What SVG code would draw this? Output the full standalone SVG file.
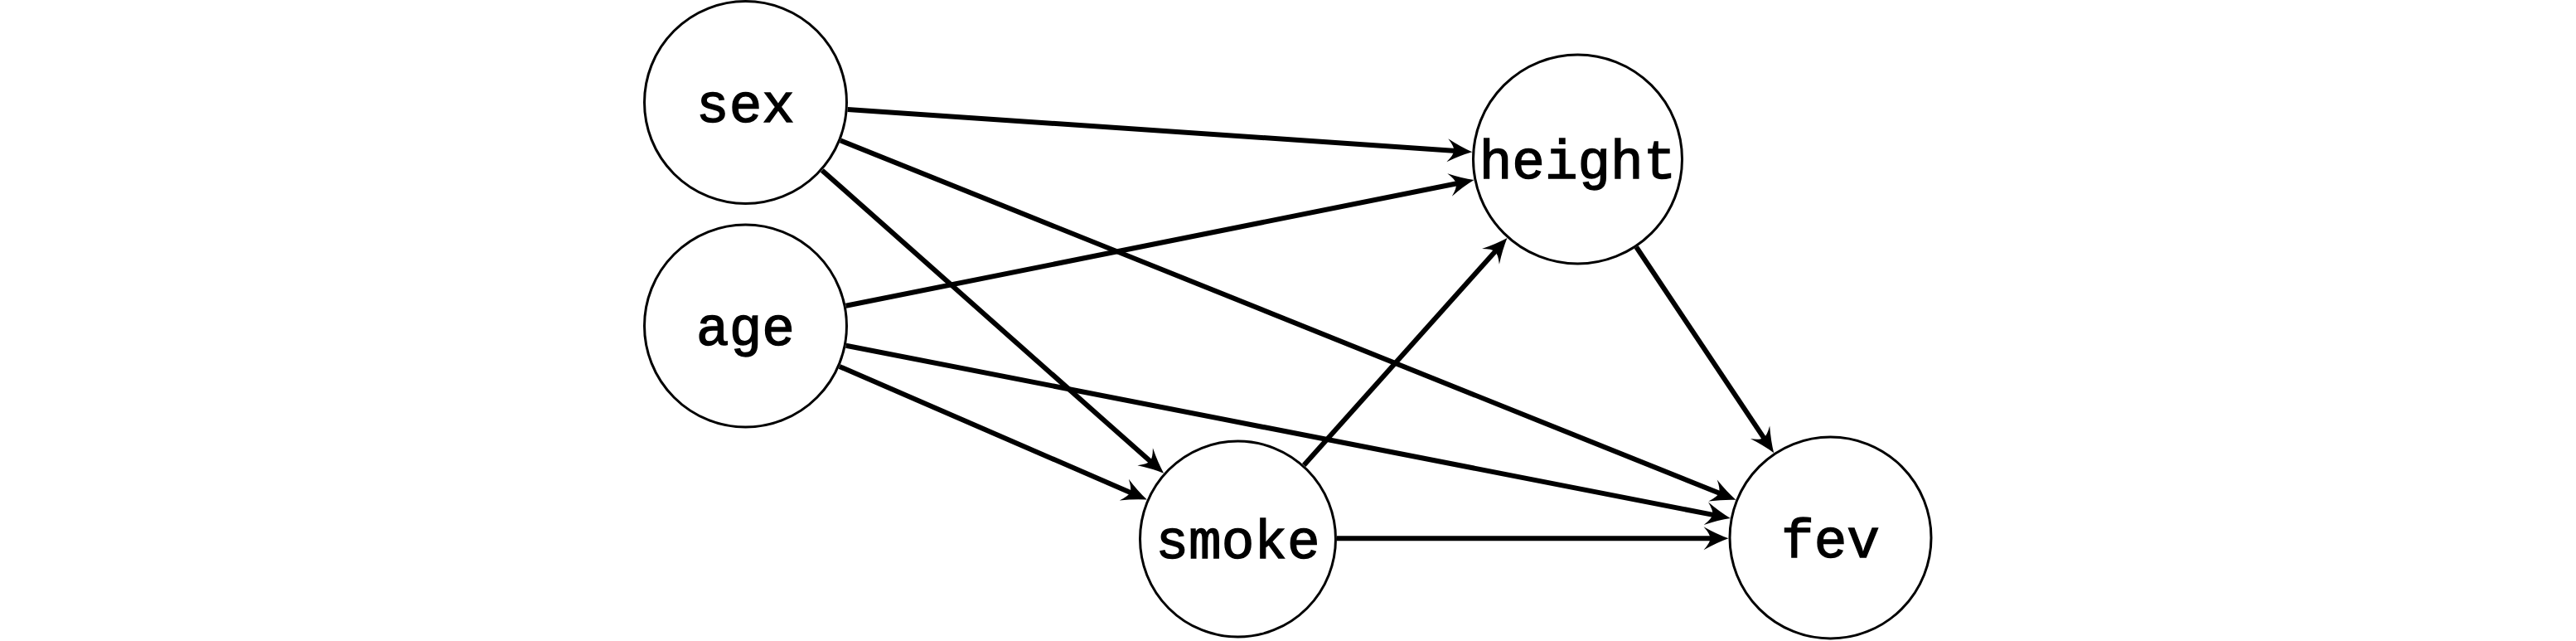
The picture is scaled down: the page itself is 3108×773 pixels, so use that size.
<svg xmlns="http://www.w3.org/2000/svg" width="3108" height="773" viewBox="0 0 3108 773">
<style>
.node circle { fill: #ffffff; stroke: #000000; stroke-width: 3; }
.node text { font-family: "Liberation Mono", "DejaVu Sans Mono", monospace; font-size: 66px; text-anchor: middle; fill: #000000; stroke: #000000; stroke-width: 1.4; }
.edge { stroke: #000000; stroke-width: 6; fill: none; marker-end: url(#arrow); }
</style>
<defs>
<marker id="arrow" markerUnits="userSpaceOnUse" orient="auto" refX="0" refY="0" markerWidth="40" markerHeight="40" viewBox="-20 -20 40 40" overflow="visible">
<path d="M16,0 Q2,-5 -14,-14 Q-6,-5 -6,0 Q-6,5 -14,14 Q2,5 16,0 Z" fill="#000000"/>
</marker>
</defs>
<rect x="0" y="0" width="3108" height="773" fill="#ffffff"/>
<g id="connectors">
<line class="edge" x1="1022.7" y1="131.9" x2="1760.3" y2="182.2"/>
<line class="edge" x1="1014.1" y1="169.5" x2="2079.5" y2="596.8"/>
<line class="edge" x1="991.9" y1="205.4" x2="1392.1" y2="560.1"/>
<line class="edge" x1="1020.6" y1="368.8" x2="1762.8" y2="220.2"/>
<line class="edge" x1="1020.7" y1="416.7" x2="2072.1" y2="621.9"/>
<line class="edge" x1="1012.9" y1="442.0" x2="1369.1" y2="596.2"/>
<line class="edge" x1="1573.2" y1="561.0" x2="1807.8" y2="298.9"/>
<line class="edge" x1="1613" y1="649.3" x2="2069.5" y2="649.3"/>
<line class="edge" x1="1974.3" y1="298.0" x2="2131.3" y2="532.9"/>
</g>
<g id="node-sex" class="node">
<circle cx="899.5" cy="123.5" r="122"/>
<text x="899.5" y="146.5">sex</text>
</g>
<g id="node-age" class="node">
<circle cx="899.5" cy="393" r="122"/>
<text x="899.5" y="416">age</text>
</g>
<g id="node-height" class="node">
<circle cx="1903.5" cy="192" r="126"/>
<text x="1903.5" y="215">height</text>
</g>
<g id="node-smoke" class="node">
<circle cx="1493.5" cy="650" r="118"/>
<text x="1493.5" y="673">smoke</text>
</g>
<g id="node-fev" class="node">
<circle cx="2208.5" cy="648.5" r="121.5"/>
<text x="2208.5" y="671.5">fev</text>
</g>
</svg>
